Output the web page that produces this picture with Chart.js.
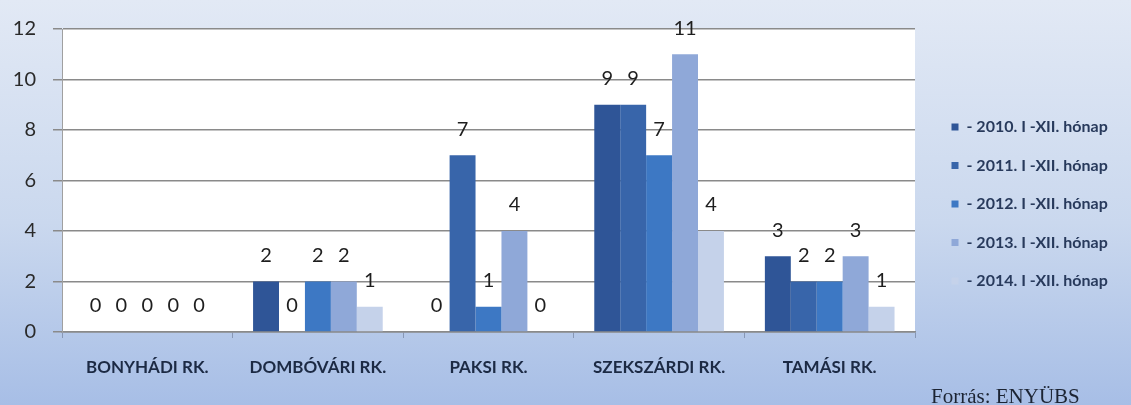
<!DOCTYPE html>
<html>
<head>
<meta charset="utf-8">
<script src="https://cdn.jsdelivr.net/npm/chart.js@4"></script>
<style>
    html, body { margin: 0; padding: 0; }
    #wrap {
        position: relative;
        width: 1131px;
        height: 405px;
        background: linear-gradient(to bottom, #e2e9f5 0%, #cad8ee 55%, #a7bee6 100%);
    }
    #source {
        position: absolute;
        left: 931px;
        top: 384px;
        font-family: "Liberation Serif", serif;
        font-size: 21px;
        color: #1c2433;
        white-space: nowrap;
    }
</style>
</head>
<body>
<div id="wrap">
    <canvas id="rkChart" width="1131" height="405"></canvas>
    <div id="source">Forrás: ENYÜBS</div>
</div>
<script>
const categories = ['BONYHÁDI RK.', 'DOMBÓVÁRI RK.', 'PAKSI RK.', 'SZEKSZÁRDI RK.', 'TAMÁSI RK.'];
const seriesNames = ['- 2010. I -XII. hónap', '- 2011. I -XII. hónap', '- 2012. I -XII. hónap', '- 2013. I -XII. hónap', '- 2014. I -XII. hónap'];
const values2010 = [0, 2, 0, 9, 3];
const values2011 = [0, 0, 7, 9, 2];
const values2012 = [0, 2, 1, 7, 2];
const values2013 = [0, 2, 4, 11, 3];
const values2014 = [0, 1, 0, 4, 1];
const yTicks = [0, 2, 4, 6, 8, 10, 12];

const colors = ['#2f5597', '#3865aa', '#3d78c4', '#8fa8d8', '#c5d2ea'];
const seriesValues = [values2010, values2011, values2012, values2013, values2014];

function getDatasets() {
    let datasets = [];
    for (let i = 0; i < seriesValues.length; i++) {
        datasets.push({
            label: seriesNames[i],
            data: seriesValues[i],
            backgroundColor: colors[i],
            borderWidth: 0,
            categoryPercentage: 0.76,
            barPercentage: 1.0
        });
    }
    return datasets;
}

// white plot area on the gradient background
const plotBackground = {
    id: 'plotBackground',
    beforeDraw(chart) {
        const a = chart.chartArea;
        const ctx = chart.ctx;
        ctx.save();
        ctx.fillStyle = '#ffffff';
        ctx.fillRect(a.left, a.top, a.right - a.left, a.bottom - a.top);
        ctx.restore();
    }
};

// numbers above every bar
const valueLabels = {
    id: 'valueLabels',
    afterDatasetsDraw(chart) {
        const ctx = chart.ctx;
        ctx.save();
        ctx.font = '20px Lato';
        ctx.fillStyle = '#1e1e1e';
        ctx.textAlign = 'center';
        ctx.textBaseline = 'middle';
        chart.data.datasets.forEach(function (ds, i) {
            const meta = chart.getDatasetMeta(i);
            meta.data.forEach(function (bar, j) {
                ctx.fillText(String(ds.data[j]), bar.x, bar.y - 26);
            });
        });
        ctx.restore();
    }
};

// fixed legend width, items nudged right and up
const legendFit = {
    id: 'legendFit',
    beforeInit(chart) {
        const fit = chart.legend.fit;
        chart.legend.fit = function () {
            fit.call(this);
            this.width = 216;
        };
    },
    afterLayout(chart) {
        chart.legend.left += 14;
        chart.legend.top -= 10;
        chart.legend.bottom -= 10;
    }
};

function createChart(ctx) {
    return new Chart(ctx, {
        type: 'bar',
        data: {
            labels: categories,
            datasets: getDatasets()
        },
        options: {
            responsive: false,
            animation: false,
            layout: {
                padding: { top: 23, left: 0, right: 0, bottom: 0 }
            },
            plugins: {
                legend: {
                    position: 'right',
                    labels: {
                        boxWidth: 7,
                        boxHeight: 7,
                        padding: 22.5,
                        color: '#283a5c',
                        font: { family: 'Lato', size: 16, weight: 'bold' }
                    }
                },
                tooltip: { enabled: false }
            },
            scales: {
                x: {
                    grid: {
                        drawOnChartArea: false,
                        drawTicks: true,
                        tickLength: 6,
                        color: '#8797b5'
                    },
                    border: { display: true, color: '#8a8a8a', width: 1.5 },
                    ticks: {
                        padding: 19,
                        color: '#1c2a44',
                        font: { family: 'Lato', size: 17, weight: 'bold' }
                    },
                    afterFit: function (scale) {
                        scale.height = 73;
                    }
                },
                y: {
                    min: 0,
                    max: 12,
                    afterBuildTicks: function (scale) {
                        scale.ticks = yTicks.map(function (v) { return { value: v }; });
                    },
                    grid: {
                        color: '#8a8a8a',
                        lineWidth: 1.5,
                        tickLength: 9
                    },
                    border: { display: true, color: '#a0a0a0', width: 1 },
                    ticks: {
                        padding: 17,
                        color: '#2a2a2a',
                        font: { family: 'Lato', size: 20 }
                    },
                    afterFit: function (scale) {
                        scale.width = 62;
                    }
                }
            }
        },
        plugins: [plotBackground, valueLabels, legendFit]
    });
}

const ctx = document.getElementById('rkChart').getContext('2d');
createChart(ctx);
</script>
</body>
</html>
